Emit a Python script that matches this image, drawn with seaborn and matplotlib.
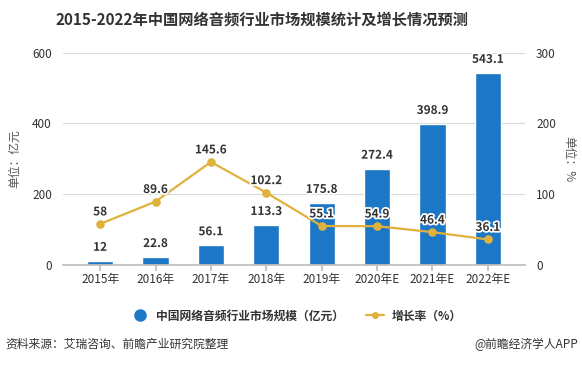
import matplotlib
matplotlib.use("Agg")
import matplotlib.pyplot as plt
import matplotlib.patheffects as pe
from matplotlib.lines import Line2D
import seaborn as sns
import numpy as np
import pandas as pd

years = ["2015年", "2016年", "2017年", "2018年", "2019年", "2020年E", "2021年E", "2022年E"]
market_size = [12, 22.8, 56.1, 113.3, 175.8, 272.4, 398.9, 543.1]
growth_rate = [58, 89.6, 145.6, 102.2, 55.1, 54.9, 46.4, 36.1]
size_labels = ["12", "22.8", "56.1", "113.3", "175.8", "272.4", "398.9", "543.1"]
growth_labels = ["58", "89.6", "145.6", "102.2", "55.1", "54.9", "46.4", "36.1"]

sns.set_theme(style="white")
plt.rcParams['font.family'] = ['Noto Sans CJK SC', 'DejaVu Sans']

BAR = "#1c77c6"
LINE = "#e0b23c"
GRID = "#d9d9d9"
TXT = "#555555"

df = pd.DataFrame({"year": years, "size": market_size, "growth": growth_rate})

fig = plt.figure(figsize=(5.82, 3.65), dpi=100)
ax = fig.add_axes([63/582, 100/365, 462/582, 212.3/365])

sns.barplot(data=df, x="year", y="size", ax=ax, color=BAR, width=0.47, saturation=1)
ax2 = ax.twinx()
sns.pointplot(data=df, x="year", y="growth", ax=ax2, color=LINE, markers="o",
              markersize=5, linewidth=1.6)

for a in (ax, ax2):
    a.set_xlim(-0.67, 7.67)
ax.set_ylim(0, 600)
ax2.set_ylim(0, 300)
ax.set_yticks([0, 200, 400, 600])
ax2.set_yticks([0, 100, 200, 300])
ax.yaxis.grid(True, color=GRID, linewidth=0.8)
ax.set_axisbelow(True)
ax2.grid(False)

for a in (ax, ax2):
    for s in ("top", "left", "right"):
        a.spines[s].set_visible(False)
    a.spines["bottom"].set_color("#bfbfbf")
ax2.spines["bottom"].set_visible(False)

ax.tick_params(axis="x", length=4, color="#bfbfbf", labelsize=8.5, labelcolor="#333333", pad=2, bottom=True)
ax.tick_params(axis="y", length=0, labelsize=8.5, labelcolor="#333333", pad=8)
ax2.tick_params(axis="y", length=0, labelsize=8.5, labelcolor="#333333", pad=8)
ax.set_xlabel("")
ax.set_ylabel("单位：亿元", fontsize=8.5, color=TXT, labelpad=8)
ax2.set_ylabel("单位：%", fontsize=8.5, color=TXT, rotation=270, labelpad=14)

halo = [pe.withStroke(linewidth=2.5, foreground="white")]
for i, (v, lab) in enumerate(zip(market_size, size_labels)):
    ax.annotate(lab, (i, v), xytext=(0, 5), textcoords="offset points", ha="center", va="bottom",
                fontsize=8.5, fontweight="bold", color="#333333", path_effects=halo)
for i, (v, lab) in enumerate(zip(growth_rate, growth_labels)):
    ax2.annotate(lab, (i, v), xytext=(0, 4), textcoords="offset points", ha="center", va="bottom",
                 fontsize=8.5, fontweight="bold", color="#333333", path_effects=halo)

fig.text(262/582, 1 - 20/365, "2015-2022年中国网络音频行业市场规模统计及增长情况预测",
         ha="center", va="center", fontsize=11, fontweight="bold", color="#333333")

handles = [
    Line2D([], [], marker="o", linestyle="none", color=BAR, markersize=8),
    Line2D([], [], marker="o", color=LINE, markersize=4, linewidth=1.6),
]
fig.legend(handles, ["中国网络音频行业市场规模（亿元）", "增长率（%）"], loc="center",
           bbox_to_anchor=(296/582, 1 - 316/365), ncol=2, frameon=False,
           prop={"size": 8.5, "weight": "bold"}, labelcolor="#333333",
           handlelength=1.6, columnspacing=1.8, handletextpad=0.6)

fig.text(5/582, 1 - 344/365, "资料来源：艾瑞咨询、前瞻产业研究院整理", ha="left", va="center",
         fontsize=8.5, color="#333333")
fig.text(578/582, 1 - 344/365, "@前瞻经济学人APP", ha="right", va="center",
         fontsize=8.5, color="#333333")

fig.savefig("out.png", dpi=100)
